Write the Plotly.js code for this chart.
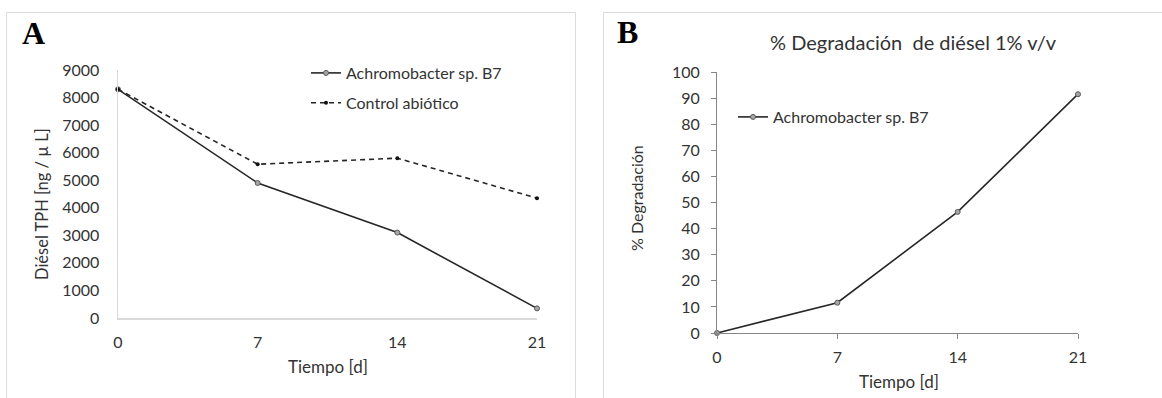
<!DOCTYPE html>
<html>
<head>
<meta charset="utf-8">
<script src="https://cdn.plot.ly/plotly-3.0.1.min.js"></script>
<style>
html,body{margin:0;padding:0;background:#fff;}
#chart{width:1162px;height:398px;}
</style>
</head>
<body>
<div id="chart"></div>
<script>
// ---- data ----
const days = [0, 7, 14, 21];
const dayTicks = ['0', '7', '14', '21'];
const tphAchromobacter = [8300, 4900, 3100, 350];
const tphControl = [8300, 5580, 5800, 4350];
const degradationAchromobacter = [0, 11.6, 46.4, 91.5];
const seriesNames = ['Achromobacter sp. B7', 'Control abiótico'];

// ---- layout helpers ----
const W = 1162, H = 398;
const px = v => v / W;
const py = v => 1 - v / H;
const FONT = 'Lato, "Open Sans", sans-serif';
const TXT = '#333333';

const traces = [
  {
    x: days, y: tphAchromobacter, name: seriesNames[0], type: 'scatter', mode: 'lines+markers',
    xaxis: 'x', yaxis: 'y', legend: 'legend', legendgroup: 'a1', cliponaxis: false,
    line: {color: '#262626', width: 1.6},
    marker: {symbol: 'circle', size: 5, color: '#a6a6a6', line: {color: '#595959', width: 1}}
  },
  {
    x: days, y: tphControl, name: seriesNames[1], type: 'scatter', mode: 'lines+markers',
    xaxis: 'x', yaxis: 'y', legend: 'legend', legendgroup: 'a2', cliponaxis: false,
    line: {color: '#262626', width: 1.6, dash: '5px,4px'},
    marker: {symbol: 'circle', size: 4, color: '#111111'}
  },
  {
    x: days, y: degradationAchromobacter, name: seriesNames[0], type: 'scatter', mode: 'lines+markers',
    xaxis: 'x2', yaxis: 'y2', legend: 'legend2', cliponaxis: false,
    line: {color: '#262626', width: 1.6},
    marker: {symbol: 'circle', size: 5, color: '#a6a6a6', line: {color: '#595959', width: 1}}
  }
];

const tickFont = {family: FONT, size: 16, color: TXT};

const layout = {
  width: W, height: H,
  margin: {l: 0, r: 0, t: 0, b: 0},
  paper_bgcolor: '#ffffff', plot_bgcolor: 'rgba(0,0,0,0)',
  showlegend: true,
  font: {family: FONT, color: TXT},
  xaxis: {
    domain: [px(118), px(537)], anchor: 'y', range: [0, 21],
    tickmode: 'array', tickvals: days, ticktext: dayTicks,
    showgrid: false, zeroline: false, showline: true, linecolor: '#d9d9d9', linewidth: 1.5,
    ticks: '', ticklabelstandoff: 9, tickfont: tickFont, fixedrange: true
  },
  yaxis: {
    domain: [py(318), py(70)], anchor: 'x', range: [0, 9000],
    tickmode: 'linear', tick0: 0, dtick: 1000,
    showgrid: false, zeroline: false, showline: true, linecolor: '#d9d9d9', linewidth: 1.5,
    ticks: '', ticklabelstandoff: 14, tickfont: tickFont, fixedrange: true
  },
  xaxis2: {
    domain: [px(717), px(1078)], anchor: 'y2', range: [0, 21],
    tickmode: 'array', tickvals: days, ticktext: dayTicks,
    showgrid: false, zeroline: false, showline: true, linecolor: '#868686', linewidth: 1,
    ticks: 'outside', ticklen: 5, tickcolor: '#868686', tickwidth: 1,
    ticklabelstandoff: 5, tickfont: tickFont, fixedrange: true
  },
  yaxis2: {
    domain: [py(333), py(72)], anchor: 'x2', range: [0, 100],
    tickmode: 'linear', tick0: 0, dtick: 10,
    showgrid: false, zeroline: false, showline: true, linecolor: '#868686', linewidth: 1,
    ticks: 'outside', ticklen: 5, tickcolor: '#868686', tickwidth: 1,
    ticklabelstandoff: 8, tickfont: tickFont, fixedrange: true
  },
  legend: {
    x: px(306), y: py(56), xanchor: 'left', yanchor: 'top',
    bgcolor: 'rgba(0,0,0,0)', borderwidth: 0,
    font: {family: FONT, size: 16, color: TXT},
    traceorder: 'grouped', tracegroupgap: 6, itemwidth: 30
  },
  legend2: {
    x: px(733), y: py(100), xanchor: 'left', yanchor: 'top',
    bgcolor: 'rgba(0,0,0,0)', borderwidth: 0,
    font: {family: FONT, size: 16, color: TXT}, itemwidth: 30
  },
  shapes: [
    {type: 'rect', xref: 'paper', yref: 'paper', x0: px(6.5), x1: px(575.5), y0: py(410), y1: py(12.5),
     line: {color: '#dcdcdc', width: 1}, fillcolor: 'rgba(0,0,0,0)', layer: 'below'},
    {type: 'rect', xref: 'paper', yref: 'paper', x0: px(603.5), x1: px(1180), y0: py(410), y1: py(12.5),
     line: {color: '#dcdcdc', width: 1}, fillcolor: 'rgba(0,0,0,0)', layer: 'below'}
  ],
  annotations: [
    {text: '<b>A</b>', xref: 'paper', yref: 'paper', x: px(33), y: py(33), xanchor: 'center', yanchor: 'middle',
     showarrow: false, font: {family: '"Liberation Serif", "DejaVu Serif", serif', size: 32, color: '#000'}},
    {text: '<b>B</b>', xref: 'paper', yref: 'paper', x: px(627), y: py(32), xanchor: 'center', yanchor: 'middle',
     showarrow: false, font: {family: '"Liberation Serif", "DejaVu Serif", serif', size: 32, color: '#000'}},
    {text: '% Degradación\u00a0 de diésel 1% v/v', xref: 'paper', yref: 'paper', x: px(913), y: py(42),
     xanchor: 'center', yanchor: 'middle', showarrow: false, font: {family: FONT, size: 20, color: TXT}},
    {text: 'Diésel TPH [ng / µ L]', xref: 'paper', yref: 'paper', x: px(42), y: py(204), textangle: -90,
     xanchor: 'center', yanchor: 'middle', showarrow: false, font: {family: FONT, size: 16.5, color: TXT}},
    {text: '% Degradación', xref: 'paper', yref: 'paper', x: px(636), y: py(198), textangle: -90,
     xanchor: 'center', yanchor: 'middle', showarrow: false, font: {family: FONT, size: 16, color: TXT}},
    {text: 'Tiempo [d]', xref: 'paper', yref: 'paper', x: px(328), y: py(366),
     xanchor: 'center', yanchor: 'middle', showarrow: false, font: {family: FONT, size: 17, color: TXT}},
    {text: 'Tiempo [d]', xref: 'paper', yref: 'paper', x: px(899), y: py(381),
     xanchor: 'center', yanchor: 'middle', showarrow: false, font: {family: FONT, size: 17, color: TXT}}
  ]
};

Plotly.newPlot('chart', traces, layout, {staticPlot: true, displayModeBar: false});
</script>
</body>
</html>
